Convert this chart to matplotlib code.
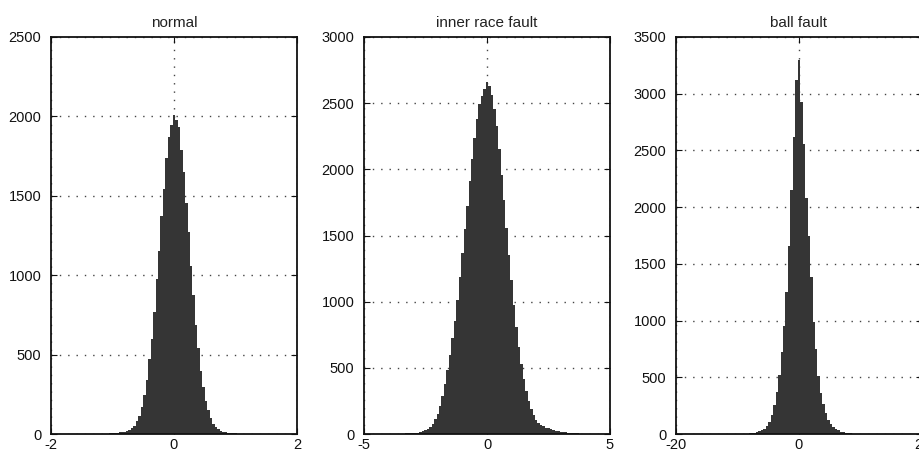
import numpy as np
import matplotlib
matplotlib.use("Agg")
import matplotlib.pyplot as plt

plt.rcParams['font.family'] = ['Liberation Sans', 'DejaVu Sans']
plt.rcParams['axes.unicode_minus'] = False

titles = ["normal", "inner race fault", "ball fault"]

# bin range (first centre, last centre, width) for each histogram
normal_bins = (-1.2, 1.2, 0.04)
inner_bins = (-4.0, 4.0, 0.1)
ball_bins = (-10.0, 10.0, 0.4)

normal_counts = [2, 2, 3, 3, 4, 5, 6, 8, 10, 12, 15, 20, 27, 36, 52, 80, 115, 172,
                 245, 340, 470, 600, 770, 975, 1150, 1370, 1545, 1740, 1870, 1945,
                 2010,
                 1975, 1935, 1790, 1650, 1455, 1270, 1055, 875, 685, 540, 398, 295,
                 205, 148, 100, 66, 44, 30, 21, 14, 11, 9, 7, 5, 4, 3, 3, 2, 2, 1]

inner_counts = [1, 1, 1, 2, 2, 3, 3, 4, 5, 6, 7, 9, 11, 15, 20, 30, 40, 55, 75, 110,
                150, 215, 285, 380, 480, 596, 722, 855, 1010, 1185, 1365, 1550, 1725,
                1915, 2080, 2240, 2380, 2490, 2555, 2610,
                2660,
                2630, 2560, 2455, 2330, 2150, 1960, 1765, 1560, 1355, 1160, 975, 808,
                660, 527, 415, 322, 248, 186, 140, 104, 82, 70, 58, 48, 42, 36, 30, 25,
                21, 18, 15, 12, 10, 8, 6, 5, 4, 3, 2, 2]

ball_counts = [1, 2, 2, 3, 4, 6, 8, 11, 16, 23, 33, 47, 72, 103, 170, 260, 370, 520,
               722, 955, 1255, 1660, 2150, 2620, 3120,
               3300,
               2930, 2560, 2080, 1745, 1380, 990, 745, 510, 362, 262, 184, 120, 92, 63,
               45, 32, 22, 16, 11, 8, 6, 4, 3, 2, 1]

xlims = [2, 5, 20]
ymaxs = [2500, 3000, 3500]

fig = plt.figure(figsize=(9.2, 4.54), dpi=100)
lefts = [51, 364, 676]

for i, (bins, counts) in enumerate([(normal_bins, normal_counts),
                                    (inner_bins, inner_counts),
                                    (ball_bins, ball_counts)]):
    ax = fig.add_axes([lefts[i] / 920, 20 / 454, 246 / 920, 397 / 454])
    centres = np.linspace(bins[0], bins[1], len(counts))
    ax.bar(centres, counts, width=bins[2], color='#353535', edgecolor='none',
           linewidth=0, zorder=2)
    ax.set_xlim(-xlims[i], xlims[i])
    ax.set_ylim(0, ymaxs[i])
    ax.set_xticks([-xlims[i], 0, xlims[i]])
    ax.set_yticks(np.arange(0, ymaxs[i] + 1, 500))
    ax.set_axisbelow(True)
    ax.grid(True, color='#444444', linestyle=(0, (1, 5)), linewidth=1.0)
    ax.tick_params(direction='in', top=True, right=True, length=4, width=0.8,
                   labelsize=10.5, colors='#111111')
    ax.tick_params(axis='y', pad=7)
    ax.tick_params(axis='x', pad=3)
    for s in ax.spines.values():
        s.set_linewidth(1.3)
        s.set_color('#111111')
    ax.set_title(titles[i], fontsize=11, color='#222222', pad=7)

fig.savefig("out.png", dpi=100)
